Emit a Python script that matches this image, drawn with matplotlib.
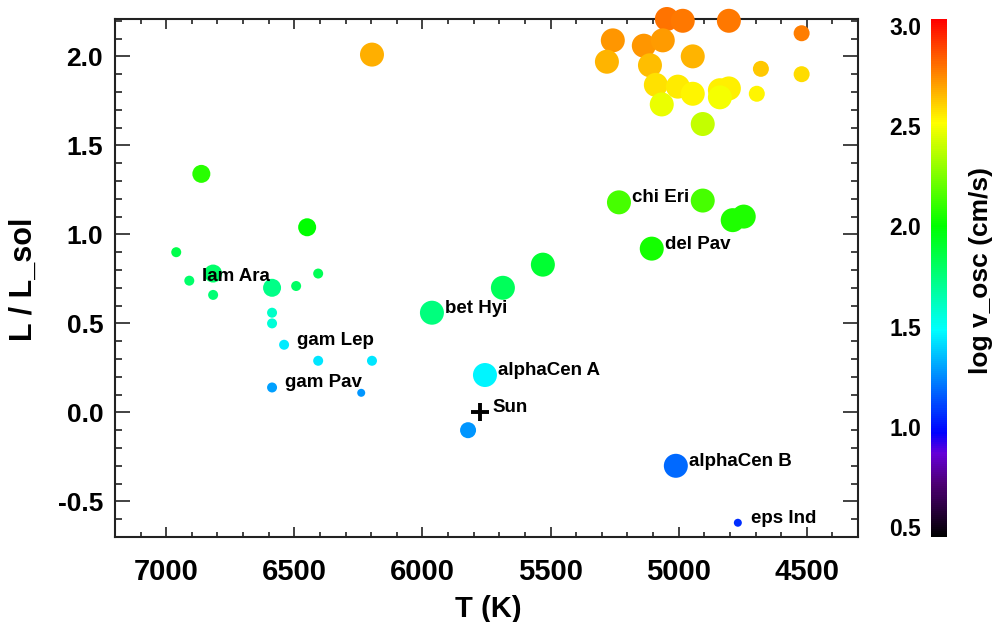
import matplotlib
matplotlib.use('Agg')
import matplotlib.pyplot as plt
from matplotlib.colors import LinearSegmentedColormap, Normalize
from matplotlib.ticker import MultipleLocator
import numpy as np

# effective temperature (K)
teff = [5046, 4984, 4804, 4520, 5257, 5136, 5062, 5280, 4945, 5112,
        4679, 4520, 5089, 5003, 4945, 4839, 4804, 4695, 4839, 5066,
        4906, 6197,
        5233, 4906, 4789, 4746, 5105, 5530, 5686, 5963, 5756, 5822,
        5011, 4769,
        6863, 6450, 6961, 6817, 6910, 6817, 6407, 6493, 6587, 6587,
        6587, 6540, 6407, 6197, 6587, 6239]
# luminosity
lum = [2.21, 2.20, 2.20, 2.13, 2.09, 2.06, 2.09, 1.97, 2.00, 1.95,
       1.93, 1.90, 1.84, 1.83, 1.79, 1.81, 1.82, 1.79, 1.77, 1.73,
       1.62, 2.01,
       1.18, 1.19, 1.08, 1.10, 0.92, 0.83, 0.70, 0.56, 0.21, -0.10,
       -0.30, -0.62,
       1.34, 1.04, 0.90, 0.78, 0.74, 0.66, 0.78, 0.71, 0.70, 0.56,
       0.50, 0.38, 0.29, 0.29, 0.14, 0.11]
# log oscillation velocity (cm/s)
logv = [2.80, 2.79, 2.79, 2.78, 2.73, 2.73, 2.72, 2.67, 2.67, 2.65,
        2.63, 2.59, 2.58, 2.56, 2.54, 2.55, 2.55, 2.54, 2.49, 2.47,
        2.39, 2.68,
        2.14, 2.14, 2.06, 2.06, 2.04, 1.90, 1.82, 1.75, 1.46, 1.27,
        1.18, 1.06,
        2.08, 2.00, 1.85, 1.79, 1.79, 1.77, 1.83, 1.80, 1.73, 1.60,
        1.57, 1.44, 1.43, 1.43, 1.29, 1.27]
# symbol class (radius in px)
msize = [12, 12, 12, 8, 12, 12, 12, 12, 12, 12,
         8, 8, 12, 12, 12, 12, 12, 8, 12, 12,
         12, 12,
         12, 12, 12, 12, 12, 12, 12, 12, 12, 8,
         12, 4,
         9, 9, 5, 9, 5, 5, 5, 5, 9, 5,
         5, 5, 5, 5, 5, 4]
names = [''] * 22 + ['chi Eri', '', '', '', 'del Pav', '', '', 'bet Hyi',
                     'alphaCen A', '', 'alphaCen B', 'eps Ind',
                     '', '', '', '', 'lam Ara', '', '', '', '', '',
                     '', 'gam Lep', '', '', 'gam Pav', '']

sun_t, sun_l = 5777, 0.0

cmap = LinearSegmentedColormap.from_list('idl_rainbow', [
    (0.00, (0.0, 0.0, 0.0)),
    (0.10, (0.30, 0.0, 0.45)),
    (0.16, (0.40, 0.0, 0.85)),
    (0.20, (0.0, 0.0, 1.0)),
    (0.40, (0.0, 1.0, 1.0)),
    (0.60, (0.0, 1.0, 0.0)),
    (0.80, (1.0, 1.0, 0.0)),
    (1.00, (1.0, 0.0, 0.0)),
])
# colour bar runs a little past its end labels
norm = Normalize(0.45, 3.035)

plt.rcParams['font.family'] = ['Liberation Sans', 'DejaVu Sans']
plt.rcParams['font.weight'] = 'bold'

W, H = 998, 622
fig = plt.figure(figsize=(W / 100, H / 100), dpi=100)
ax = fig.add_axes([115 / W, 1 - 537 / H, 743 / W, 518 / H])

px = 72.0 / fig.dpi
s = [(2 * r * px) ** 2 for r in msize]
ax.scatter(teff, lum, s=s, c=logv, cmap=cmap, norm=norm,
           edgecolors='none', clip_on=False, zorder=3)
ax.plot(sun_t, sun_l, marker='+', color='black', ms=13, mew=2.8,
        clip_on=False, zorder=4)
ax.text(sun_t - 50, sun_l, 'Sun', fontsize=13.5, fontweight='bold',
        va='baseline', zorder=5)
for t, l, n in zip(teff, lum, names):
    if n:
        ax.text(t - 50, l, n, fontsize=13.5, fontweight='bold',
                va='baseline', zorder=5)

ax.set_xlim(7200, 4300)
ax.set_ylim(-0.7, 2.21)
ax.xaxis.set_major_locator(MultipleLocator(500))
ax.xaxis.set_minor_locator(MultipleLocator(100))
ax.yaxis.set_major_locator(MultipleLocator(0.5))
ax.yaxis.set_minor_locator(MultipleLocator(0.1))
ax.tick_params(which='both', direction='in', top=True, right=True,
               width=1.2, color='#222222')
ax.tick_params(axis='x', which='major', length=7, labelsize=21, pad=15)
ax.tick_params(axis='x', which='minor', length=3.5)
ax.tick_params(axis='y', which='major', length=10.5, labelsize=19, pad=8.5)
ax.tick_params(axis='y', which='minor', length=5.2)
for sp in ax.spines.values():
    sp.set_linewidth(1.5)
    sp.set_color('#222222')
ax.set_yticks([-0.5, 0.0, 0.5, 1.0, 1.5, 2.0])
ax.set_yticklabels(['-0.5', '0.0', '0.5', '1.0', '1.5', '2.0'])

fig.text(488 / W, 1 - 609 / H, 'T (K)', fontsize=21, fontweight='bold',
         ha='center', va='center')
fig.text(24 / W, 1 - 279 / H, 'L / L_sol', fontsize=22, fontweight='bold',
         ha='center', va='center', rotation=90)

cax = fig.add_axes([931 / W, 1 - 537 / H, 16 / W, 518 / H])
cb = fig.colorbar(plt.cm.ScalarMappable(norm=norm, cmap=cmap), cax=cax)
cb.outline.set_visible(False)
cb.set_ticks([0.5, 1.0, 1.5, 2.0, 2.5, 3.0])
cb.set_ticklabels(['0.5', '1.0', '1.5', '2.0', '2.5', '3.0'])
cax.yaxis.set_ticks_position('left')
cax.tick_params(length=0, labelsize=16.5, pad=7)
fig.text(981 / W, 1 - 270 / H, 'log v_osc (cm/s)', fontsize=19,
         fontweight='bold', ha='center', va='center', rotation=90)

fig.savefig('out.png', dpi=100)
